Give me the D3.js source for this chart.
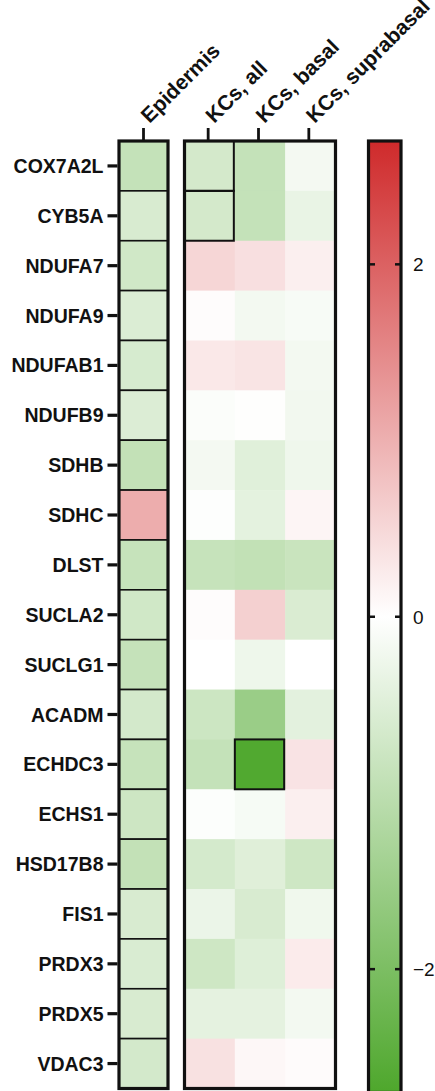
<!DOCTYPE html>
<html>
<head>
<meta charset="utf-8">
<script src="https://cdn.jsdelivr.net/npm/d3@7"></script>
<style>
  body { margin: 0; background: #fff; }
  text { font-family: "Liberation Sans", Arial, sans-serif; fill: #111; }
</style>
</head>
<body>
<div id="chart"></div>
<script>
var genes = ["COX7A2L", "CYB5A", "NDUFA7", "NDUFA9", "NDUFAB1", "NDUFB9", "SDHB", "SDHC", "DLST",
  "SUCLA2", "SUCLG1", "ACADM", "ECHDC3", "ECHS1", "HSD17B8", "FIS1", "PRDX3", "PRDX5", "VDAC3"];
var kcColumns = ["KCs, all", "KCs, basal", "KCs, suprabasal"];

var epidermis = [-0.9, -0.6, -0.72, -0.55, -0.62, -0.54, -0.92, 1.04, -0.87,
  -0.72, -0.88, -0.67, -0.87, -0.77, -0.92, -0.6, -0.58, -0.6, -0.67];
var kcsAll = [-0.66, -0.66, 0.52, 0.04, 0.29, -0.06, -0.17, -0.03, -0.87,
  0.04, 0, -0.78, -0.9, -0.04, -0.65, -0.3, -0.75, -0.4, 0.38];
var kcsBasal = [-0.9, -0.9, 0.4, -0.18, 0.34, -0.02, -0.47, -0.41, -0.93,
  0.6, -0.26, -1.54, -2.65, -0.13, -0.48, -0.6, -0.5, -0.4, 0.1];
var kcsSupra = [-0.17, -0.33, 0.2, -0.12, -0.18, -0.2, -0.24, 0.13, -0.83,
  -0.57, 0, -0.42, 0.35, 0.2, -0.75, -0.23, 0.25, -0.18, 0.05];

// cells drawn with a black outline (column, gene)
var outlined = [["KCs, all", "COX7A2L"], ["KCs, all", "CYB5A"], ["KCs, basal", "ECHDC3"]];

var legendTicks = [2, 0, -2];

var svgWidth = 435;
var svgHeight = 1091;
var labelSize = 19.5;

var svg = d3.select("#chart")
  .append("svg")
  .attr("width", svgWidth)
  .attr("height", svgHeight);

var color = d3.scaleLinear()
  .domain([-2.7, 0, 2.7])
  .range(["#4ea72c", "#ffffff", "#cf2a2b"]);

var y = d3.scaleBand()
  .domain(genes)
  .range([141, 1088.5]);

var xEpi = d3.scaleBand()
  .domain(["Epidermis"])
  .range([119, 168]);

var xKc = d3.scaleBand()
  .domain(kcColumns)
  .range([184.5, 335.5]);

// Epidermis column
var epiGroup = svg.append("g");
epiGroup.selectAll("rect")
  .data(epidermis)
  .enter()
  .append("rect")
  .attr("x", xEpi("Epidermis"))
  .attr("y", (d, i) => y(genes[i]))
  .attr("width", xEpi.bandwidth())
  .attr("height", y.bandwidth())
  .attr("fill", d => color(d))
  .attr("stroke", "#111")
  .attr("stroke-width", 1.6);

epiGroup.append("rect")
  .attr("x", xEpi.range()[0])
  .attr("y", y.range()[0])
  .attr("width", xEpi.range()[1] - xEpi.range()[0])
  .attr("height", y.range()[1] - y.range()[0])
  .attr("fill", "none")
  .attr("stroke", "#111")
  .attr("stroke-width", 3.2);

// KC columns
var kcData = [];
genes.forEach(function(g, i) {
  kcData.push({ col: kcColumns[0], gene: g, value: kcsAll[i] });
  kcData.push({ col: kcColumns[1], gene: g, value: kcsBasal[i] });
  kcData.push({ col: kcColumns[2], gene: g, value: kcsSupra[i] });
});

var kcGroup = svg.append("g");
kcGroup.selectAll("rect")
  .data(kcData)
  .enter()
  .append("rect")
  .attr("x", d => xKc(d.col))
  .attr("y", d => y(d.gene))
  .attr("width", xKc.bandwidth() + 0.5)
  .attr("height", y.bandwidth() + 0.5)
  .attr("fill", d => color(d.value));

kcGroup.selectAll(".outlined")
  .data(outlined)
  .enter()
  .append("rect")
  .attr("class", "outlined")
  .attr("x", d => xKc(d[0]))
  .attr("y", d => y(d[1]))
  .attr("width", xKc.bandwidth() - 1)
  .attr("height", y.bandwidth())
  .attr("fill", "none")
  .attr("stroke", "#111")
  .attr("stroke-width", 2);

kcGroup.append("rect")
  .attr("x", xKc.range()[0])
  .attr("y", y.range()[0])
  .attr("width", xKc.range()[1] - xKc.range()[0])
  .attr("height", y.range()[1] - y.range()[0])
  .attr("fill", "none")
  .attr("stroke", "#111")
  .attr("stroke-width", 3.2);

// Row labels with ticks
var leftAxis = d3.axisLeft(y).tickSize(10).tickPadding(4);
var yAxis = svg.append("g")
  .attr("transform", "translate(117.5,0)")
  .call(leftAxis);
yAxis.select(".domain").remove();
yAxis.selectAll(".tick line").attr("stroke", "#111").attr("stroke-width", 3.2);
yAxis.selectAll(".tick text")
  .attr("font-size", labelSize)
  .attr("font-weight", "bold")
  .attr("dy", "0.36em")
  .attr("fill", "#111");

// Column labels with ticks
var allCols = ["Epidermis"].concat(kcColumns);
var colX = c => c === "Epidermis" ? xEpi(c) + xEpi.bandwidth() / 2 : xKc(c) + xKc.bandwidth() / 2 - 1.5;

var colGroup = svg.append("g");
colGroup.selectAll("line")
  .data(allCols)
  .enter()
  .append("line")
  .attr("x1", d => colX(d))
  .attr("x2", d => colX(d))
  .attr("y1", 128)
  .attr("y2", 140)
  .attr("stroke", "#111")
  .attr("stroke-width", 2.8);

colGroup.selectAll("text")
  .data(allCols)
  .enter()
  .append("text")
  .attr("transform", d => `translate(${colX(d) + 6}, 124) rotate(-45)`)
  .attr("font-size", 21)
  .attr("font-weight", "bold")
  .text(d => d);

// Colour bar
var legendY = d3.scaleLinear()
  .domain([2.7, -2.7])
  .range([141, 1092.5]);

var defs = svg.append("defs");
var grad = defs.append("linearGradient")
  .attr("id", "legendGrad")
  .attr("x1", "0").attr("x2", "0")
  .attr("y1", "0").attr("y2", "1");
grad.selectAll("stop")
  .data([2.7, 0, -2.7])
  .enter()
  .append("stop")
  .attr("offset", (d, i) => (i * 50) + "%")
  .attr("stop-color", d => color(d));

var legend = svg.append("g");
legend.append("rect")
  .attr("x", 368.5)
  .attr("y", legendY(2.7))
  .attr("width", 32.5)
  .attr("height", legendY(-2.7) - legendY(2.7))
  .attr("fill", "url(#legendGrad)")
  .attr("stroke", "#111")
  .attr("stroke-width", 3.2);

legend.selectAll(".tl")
  .data(legendTicks)
  .enter()
  .append("line")
  .attr("class", "tl")
  .attr("x1", 369).attr("x2", 375)
  .attr("y1", d => legendY(d)).attr("y2", d => legendY(d))
  .attr("stroke", "#111").attr("stroke-width", 2.5);

legend.selectAll(".tr")
  .data(legendTicks)
  .enter()
  .append("line")
  .attr("class", "tr")
  .attr("x1", 395).attr("x2", 401)
  .attr("y1", d => legendY(d)).attr("y2", d => legendY(d))
  .attr("stroke", "#111").attr("stroke-width", 2.5);

legend.selectAll("text")
  .data(legendTicks)
  .enter()
  .append("text")
  .attr("x", 413)
  .attr("y", d => legendY(d))
  .attr("dy", "0.36em")
  .attr("font-size", 19)
  .text(d => d < 0 ? "\u2212" + Math.abs(d) : d);
</script>
</body>
</html>
